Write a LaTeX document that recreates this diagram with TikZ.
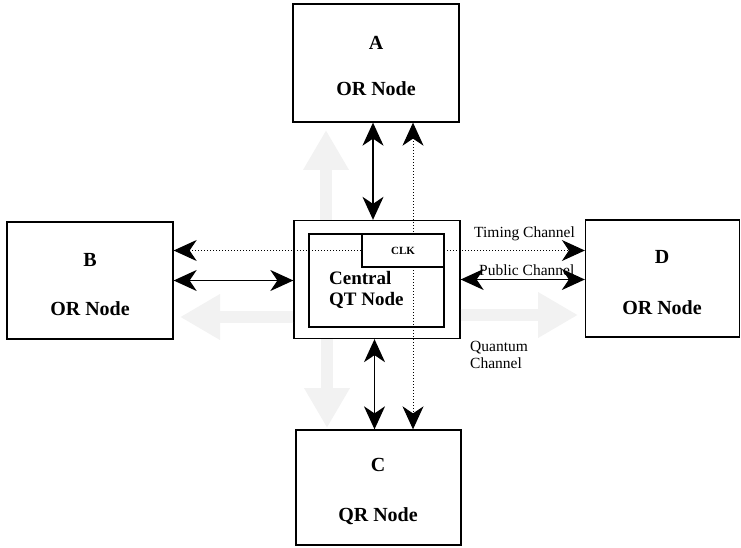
\documentclass[tikz,border=0pt]{standalone}
\usepackage{fontspec}
\setmainfont{Liberation Serif}
\usetikzlibrary{arrows.meta}
\begin{document}
\begin{tikzpicture}[x=1pt,y=-1pt,
  box/.style={draw, line width=1.3pt, inner sep=0pt, fill=white},
  title/.style={font=\fontsize{20}{22}\selectfont\bfseries, inner sep=0pt},
  lbl/.style={font=\fontsize{15.5}{17}\selectfont, inner sep=0pt},
  link/.style={line width=1.4pt, {Stealth[length=23pt,width=21pt,inset=7pt]}-{Stealth[length=23pt,width=21pt,inset=7pt]}},
  timing/.style={line width=1pt, dotted, {Stealth[length=23pt,width=21pt,inset=7pt]}-{Stealth[length=23pt,width=21pt,inset=7pt]}},
  qarrow/.style={line width=12pt, draw=gray!10, -{Triangle[length=40pt,width=43pt]}}]
\useasboundingbox (0,0) rectangle (741,548);

% terminal nodes
\node[box, minimum width=166pt, minimum height=118pt] (A) at (376,63) {};
\node[box, minimum width=166pt, minimum height=117pt] (B) at (90,280.5) {};
\node[box, minimum width=154pt, minimum height=117pt] (D) at (662.5,278.5) {};
\node[box, minimum width=165pt, minimum height=115pt] (C) at (378.5,487.5) {};

\node[title] (Aa) at (376,43) {A};
\node[title] (Ab) at (376,89) {OR Node};
\node[title] (Ba) at (90,260) {B};
\node[title] (Bb) at (90,309) {OR Node};
\node[title] (Da) at (662,257) {D};
\node[title] (Db) at (662,308) {OR Node};
\node[title] (Ca) at (378,465) {C};
\node[title] (Cb) at (378,516) {QR Node};

% central node
\node[box, minimum width=166pt, minimum height=118pt] (Q) at (377,279.5) {};

% quantum channel (light arrows)
\coordinate (upTip) at (326,130);
\coordinate (dnTip) at (327,428);
\coordinate (lfTip) at (180,317);
\coordinate (rtTip) at (578,315);
\draw[qarrow] (Q.north -| upTip) -- (upTip);
\draw[qarrow] (Q.south -| dnTip) -- (dnTip);
\draw[qarrow] (Q.west |- lfTip) -- (lfTip);
\draw[qarrow] (Q.east |- rtTip) -- (rtTip);

% inner part of the central node
\node[box, minimum width=135pt, minimum height=93pt] (In) at (376.5,280.5) {};
\node[title, anchor=west, align=left, font=\fontsize{19}{21}\selectfont\bfseries]
  (Qt) at (329,290) {Central\\QT Node};

% public channel
\draw[link] ([xshift=-3pt]A.south) -- ([xshift=-3pt]A.south |- Q.north);
\draw[link] ([xshift=-4pt]C.north) -- ([xshift=-4pt]C.north |- Q.south);
\draw[link] (B.east) -- (B.east -| Q.west);
\draw[link] (Q.east) -- (Q.east -| D.west);

% timing channel
\coordinate (tx) at (413,0);
\coordinate (ty) at (0,250.5);
\draw[timing] (B.east |- ty) -- (D.west |- ty);
\draw[timing] (A.south -| tx) -- (C.north -| tx);

% clock block, drawn over the timing lines
\node[box, minimum width=82pt, minimum height=33pt,
      font=\fontsize{11}{13}\selectfont\bfseries] (CLK) at (403,250.5) {CLK};

% channel labels
\node[lbl, anchor=west] (tlab) at (474,234) {Timing Channel};
\node[lbl, anchor=west] (plab) at (479,270) {Public Channel};
\node[lbl, anchor=west, align=left] (qlab) at (470,355) {Quantum\\Channel};
\end{tikzpicture}
\end{document}
